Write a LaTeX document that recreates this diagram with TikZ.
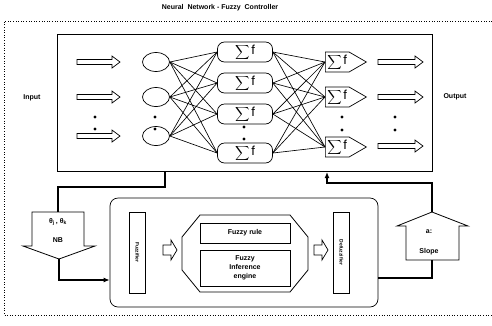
\documentclass[tikz,border=0pt]{standalone}
\usepackage{fontspec}
\setmainfont{Liberation Sans}
\usetikzlibrary{shapes.geometric,shapes.symbols,arrows.meta,calc}
\newcommand{\hollowarr}[6]{% x1, x2, y, half shaft, half head, head length
  \draw[hollow] (#1,#3-#4) -- (#2-#6,#3-#4) -- (#2-#6,#3-#5) -- (#2,#3) -- (#2-#6,#3+#5) -- (#2-#6,#3+#4) -- (#1,#3+#4) -- cycle;}
\newcommand{\sigf}{$\displaystyle\sum$\,{\fontsize{13}{13}\selectfont f}}
\begin{document}
\begin{tikzpicture}[x=1pt,y=-1pt,
  lbl/.style={font=\fontsize{7}{9}\selectfont\bfseries},
  small/.style={font=\fontsize{5}{5}\selectfont\bfseries},
  sig/.style={font=\fontsize{10}{12}\selectfont},
  inode/.style={draw,ellipse,line width=0.7pt,minimum width=27pt,minimum height=19pt,inner sep=0pt},
  hnode/.style={draw,line width=0.7pt,rounded corners=7pt,minimum width=55pt,minimum height=20pt,inner sep=0pt,sig},
  onode/.style={draw,line width=0.7pt,signal,signal to=east,signal pointer angle=60,minimum height=20pt,inner xsep=2pt,inner ysep=0pt,sig},
  wire/.style={line width=0.65pt},
  hollow/.style={line width=0.7pt},
  conn/.style={line width=1.5pt},
  dotm/.style={circle,fill,inner sep=0pt,minimum size=3.2pt},
  box/.style={draw,line width=0.7pt,inner sep=0pt},
]
\useasboundingbox (0,0) rectangle (492,325);

% title and outer dotted frame
\node[lbl] (title) at (220,8) {Neural\ \ Network - Fuzzy\ \ Controller};
\draw[dotted,line width=0.6pt] (492,21) -- (4,21) -- (4,315) -- (492,315);

% neural network box
\node[draw,line width=1pt,minimum width=375pt,minimum height=137pt,inner sep=0pt,anchor=north west] (nn) at (57,34) {};
\node[lbl] (inp) at (32,98) {Input};
\node[lbl] (outp) at (455,97) {Output};

% input arrows
\hollowarr{77}{120}{62}{2.5}{6}{8}
\hollowarr{77}{120}{97}{2.5}{6}{8}
\hollowarr{77}{120}{136}{2.5}{6}{8}
\node[dotm] (d1) at (95,117) {};
\node[dotm] (d2) at (95,129) {};

% input layer
\node[inode] (i1) at (156,62) {};
\node[inode] (i2) at (156,97) {};
\node[inode] (i3) at (156,136) {};
\node[dotm] (d3) at (155,117) {};
\node[dotm] (d4) at (155,129) {};

% hidden layer
\node[hnode] (h1) at (245,52) {\sigf};
\node[hnode] (h2) at (245,83) {\sigf};
\node[hnode] (h3) at (245,114) {\sigf};
\node[hnode] (h4) at (245,153) {\sigf};
\node[dotm] (d5) at (244,127) {};
\node[dotm] (d6) at (244,139) {};

% output layer
\node[onode,anchor=west] (o1) at (325,62) {\sigf};
\node[onode,anchor=west] (o2) at (325,97) {\sigf};
\node[onode,anchor=west] (o3) at (325,147) {\sigf};
\node[dotm] (d7) at (342,117) {};
\node[dotm] (d8) at (342,130) {};

% output arrows
\hollowarr{378}{423}{62}{2.5}{6}{8}
\hollowarr{378}{423}{97}{2.5}{6}{8}
\hollowarr{378}{423}{146}{2.5}{6}{8}
\node[dotm] (d9) at (395,117) {};
\node[dotm] (d10) at (395,130) {};

% connections
\foreach \a in {i1,i2,i3} \foreach \b in {h1,h2,h3,h4} \draw[wire] (\a.east) -- (\b.west);
\foreach \a in {h1,h2,h3,h4} \foreach \b in {o1,o2,o3} \draw[wire] (\a.east) -- (\b.west);

% NB arrow (down)
\draw[line width=0.8pt] (32,212) -- (84,212) -- (84,246) -- (95,246) -- (59,259) -- (23,246) -- (32,246) -- cycle;
\coordinate (nbtop) at (58,212);
\coordinate (nbtip) at (59,259);
\node[lbl] (theta) at (58,222) {θ\textsubscript{j}\,,\ θ\textsubscript{k}};
\node[lbl] (nb) at (58,240) {NB};

% slope arrow (up)
\draw[line width=0.8pt] (406,260) -- (406,226) -- (397,226) -- (432,212) -- (468,226) -- (459,226) -- (459,260) -- cycle;
\coordinate (sltip) at (432,212);
\coordinate (slbot) at (432,260);
\node[lbl] (alpha) at (429,232) {a:};
\node[lbl] (slope) at (429,252) {Slope};

% inner fuzzy box
\node[draw,line width=0.7pt,rounded corners=8pt,minimum width=268pt,minimum height=109pt,inner sep=0pt] (inner) at (244,252.5) {};
\node[box,minimum width=16pt,minimum height=81pt] (fz) at (137.5,252.5) {};
\node[small,rotate=-90] (fzt) at (fz) {Fuzzifier};
\node[box,minimum width=16pt,minimum height=81pt] (dfz) at (341.5,252.5) {};
\node[small,rotate=-90] (dfzt) at (dfz) {Defuzzifier};
\hollowarr{163}{177}{250}{5}{10}{6}
\hollowarr{314}{328}{250}{5}{10}{6}
\draw[line width=0.8pt] (182,237) -- (200,215) -- (290,215) -- (308,237) -- (308,270) -- (290,292) -- (200,292) -- (182,270) -- cycle;
\node[box,minimum width=90pt,minimum height=20pt,lbl] (fr) at (245,233) {Fuzzy rule};
\node[box,minimum width=90pt,minimum height=36pt,lbl,align=center] (fie) at (245,268) {Fuzzy\\Inference\\engine};

% thick connectors
\draw[conn] ([xshift=108pt]nn.south west) |- (58,187) -- (nbtop);
\draw[conn,-{Latex[length=6pt,width=5pt]}] (nbtip) |- ([yshift=-27.5pt]inner.west);
\draw[conn] ([yshift=-25.5pt]inner.east) -| (slbot);
\draw[conn,-{Latex[length=6pt,width=5pt]}] (sltip) -- ++(0,-29) -| ([xshift=-106pt]nn.south east);
\end{tikzpicture}
\end{document}
